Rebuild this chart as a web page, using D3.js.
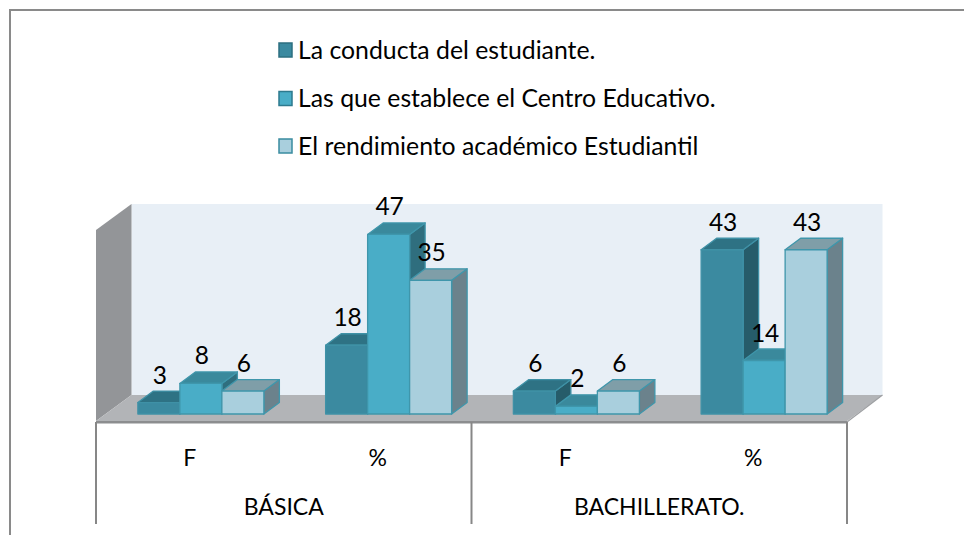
<!DOCTYPE html>
<html><head><meta charset="utf-8">
<script src="https://cdn.jsdelivr.net/npm/d3@7"></script>
<style>html,body{margin:0;padding:0;background:#fff;}svg{display:block;}</style>
</head><body>
<svg id="c" width="964" height="535"></svg>
<script>
const categories = ["F", "%", "F", "%"];
const groups = ["BÁSICA", "BACHILLERATO."];
const seriesNames = ["La conducta del estudiante.", "Las que establece el Centro Educativo.", "El rendimiento académico Estudiantil"];
const conducta = [3, 18, 6, 43];
const centro = [8, 47, 2, 14];
const rendimiento = [6, 35, 6, 43];
const yTicks = [0, 10, 20, 30, 40, 50];

const series = [conducta, centro, rendimiento];
const colors = [
  {front: "#3b8aa0", top: "#2e7284", side: "#265c6a", stroke: "#3f91a6", legStroke: "#2d6f80"},
  {front: "#49adc7", top: "#3a899c", side: "#2f6e7e", stroke: "#3f96ab", legStroke: "#2d7a8e"},
  {front: "#a9cfdd", top: "#7f9ea8", side: "#6b828c", stroke: "#3f96ab", legStroke: "#3a8ca0"}
];
const FONT = "Lato, 'Open Sans', sans-serif";

const svg = d3.select("#c");

// outer chart border
svg.append("path").attr("d", "M10,535 V10 H964").attr("fill", "none")
  .attr("stroke", "#8a8a8a").attr("stroke-width", 2);

// geometry
const fx0 = 96, fx1 = 847, fy = 421;       // front floor edge
const D = [35.5, -26];                     // full depth vector
const yScale = d3.scaleLinear().domain([0, d3.max(yTicks)]).range([0, 191]);

// back wall
svg.append("rect").attr("x", fx0 + D[0]).attr("y", fy + D[1] - yScale(50))
  .attr("width", fx1 - fx0).attr("height", yScale(50)).attr("fill", "#e8eff6");
// left side wall
svg.append("polygon").attr("points", [
  [fx0, fy], [fx0, fy - yScale(50)], [fx0 + D[0], fy + D[1] - yScale(50)], [fx0 + D[0], fy + D[1]]
].map(p => p.join(",")).join(" ")).attr("fill", "#939598");
// floor
svg.append("polygon").attr("points", [
  [fx0, fy], [fx1, fy], [fx1 + D[0], fy + D[1]], [fx0 + D[0], fy + D[1]]
].map(p => p.join(",")).join(" ")).attr("fill", "#b2b4b7");
svg.append("rect").attr("x", fx0).attr("y", fy).attr("width", fx1 - fx0).attr("height", 2.5).attr("fill", "#8c8d8f");
svg.append("line").attr("x1", fx1).attr("y1", fy + 1).attr("x2", fx1 + D[0]).attr("y2", fy + D[1])
  .attr("stroke", "#9d9fa2").attr("stroke-width", 1.2);

// bars
const bx = d3.scaleBand().domain(d3.range(categories.length)).range([fx0 + 11, fx1 + 11]);
const inner = d3.scaleBand().domain(d3.range(series.length)).range([0, 126]);
const off = (bx.bandwidth() - 126) / 2;
const baseY = 414;
const bd = [15.5, -11.5];

const barsG = svg.append("g");
categories.forEach((c, ci) => {
  series.forEach((vals, si) => {
    const v = vals[ci];
    const x0 = bx(ci) + off + inner(si), x1 = x0 + inner.bandwidth();
    const yt = baseY - yScale(v);
    const col = colors[si];
    const g = barsG.append("g").attr("stroke", col.stroke).attr("stroke-width", 1.3).attr("stroke-linejoin", "round");
    g.append("polygon").attr("points", [[x1, baseY], [x1, yt], [x1 + bd[0], yt + bd[1]], [x1 + bd[0], baseY + bd[1]]].map(p => p.join(",")).join(" "))
      .attr("fill", col.side);
    g.append("polygon").attr("points", [[x0, yt], [x1, yt], [x1 + bd[0], yt + bd[1]], [x0 + bd[0], yt + bd[1]]].map(p => p.join(",")).join(" "))
      .attr("fill", col.top);
    g.append("rect").attr("x", x0).attr("y", yt).attr("width", x1 - x0).attr("height", baseY - yt).attr("fill", col.front);
  });
});
// value labels
categories.forEach((c, ci) => {
  series.forEach((vals, si) => {
    const v = vals[ci];
    const x0 = bx(ci) + off + inner(si);
    svg.append("text").attr("x", x0 + inner.bandwidth() / 2 + 1).attr("y", baseY - yScale(v) - 19)
      .attr("text-anchor", "middle").attr("font-family", FONT).attr("font-size", 24.5).attr("fill", "#000").text(v);
  });
});

// category table
const cx = d3.scaleBand().domain(d3.range(categories.length)).range([fx0, fx1]);
const gx = d3.scaleBand().domain(d3.range(groups.length)).range([fx0, fx1]);
[fx0, (fx0 + fx1) / 2, fx1].forEach(x => {
  svg.append("line").attr("x1", x).attr("x2", x).attr("y1", fy + 1).attr("y2", 524)
    .attr("stroke", "#878787").attr("stroke-width", 2);
});
categories.forEach((c, i) => {
  svg.append("text").attr("x", cx(i) + cx.bandwidth() / 2).attr("y", 466)
    .attr("text-anchor", "middle").attr("font-family", FONT).attr("font-size", 23).text(c);
});
groups.forEach((g, i) => {
  svg.append("text").attr("x", gx(i) + gx.bandwidth() / 2).attr("y", 515)
    .attr("text-anchor", "middle").attr("font-family", FONT).attr("font-size", 23).text(g);
});

// legend
const ly = [50, 98.5, 146];
seriesNames.forEach((n, i) => {
  svg.append("rect").attr("x", 279).attr("y", ly[i] - 7).attr("width", 13).attr("height", 14)
    .attr("fill", colors[i].front).attr("stroke", colors[i].legStroke).attr("stroke-width", 1.5);
  svg.append("text").attr("x", 298).attr("y", ly[i] + 8.5).attr("font-family", FONT).attr("font-size", 24.8).text(n);
});
</script>
</body></html>
